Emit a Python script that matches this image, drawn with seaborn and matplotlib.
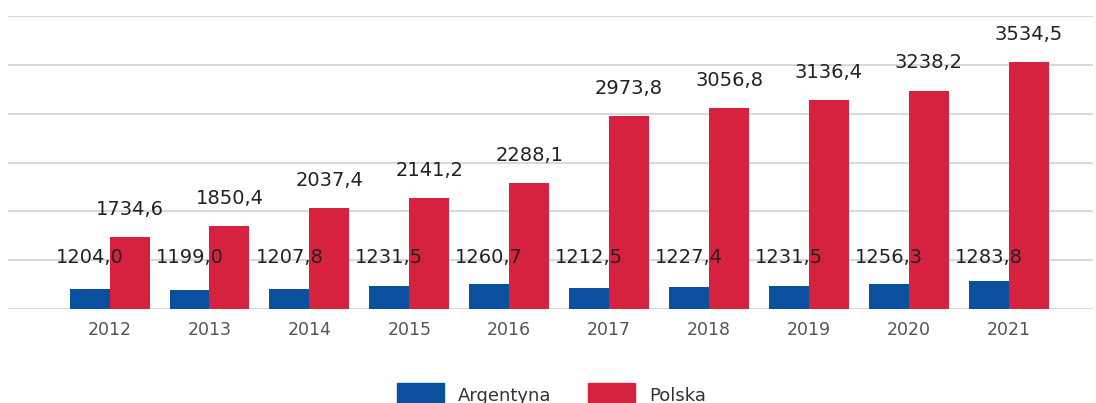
import pandas as pd
import matplotlib
matplotlib.use("Agg")
import matplotlib.pyplot as plt
import seaborn as sns

years = ["2012", "2013", "2014", "2015", "2016", "2017", "2018", "2019", "2020", "2021"]
argentyna = [1204.0, 1199.0, 1207.8, 1231.5, 1260.7, 1212.5, 1227.4, 1231.5, 1256.3, 1283.8]
polska = [1734.6, 1850.4, 2037.4, 2141.2, 2288.1, 2973.8, 3056.8, 3136.4, 3238.2, 3534.5]
series = ["Argentyna", "Polska"]
colors = ["#0b4f9f", "#d6223f"]

df = pd.DataFrame({
    "rok": years * 2,
    "kraj": [series[0]] * len(years) + [series[1]] * len(years),
    "wartosc": argentyna + polska,
})

sns.set_style("white")
fig = plt.figure(figsize=(10.96, 4.03), dpi=100)
ax = fig.add_axes([0.007, 0.233, 0.99, 0.727])

sns.barplot(data=df, x="rok", y="wartosc", hue="kraj", palette=colors,
            width=0.8, saturation=1, linewidth=0, ax=ax, legend=False)

ax.set_ylim(1000, 4000)
ax.set_xlim(-1.02, 9.84)
ax.set_yticks([1000, 1500, 2000, 2500, 3000, 3500, 4000])
ax.yaxis.grid(True, color="#d9d9d9", linewidth=1.5)
ax.set_axisbelow(True)
ax.tick_params(axis="y", left=False, labelleft=False)
ax.tick_params(axis="x", bottom=False, labelsize=12.5, labelcolor="#555555", pad=5)
ax.set_xlabel("")
ax.set_ylabel("")
sns.despine(ax=ax, left=True, bottom=True, top=True, right=True)

def fmt(v):
    return f"{v:.1f}".replace(".", ",")

# Argentyna labels sit at a fixed height, Polska labels above the bars
for i, v in enumerate(argentyna):
    ax.text(i - 0.2, 1525, fmt(v), ha="center", va="center", fontsize=14, color="#222222")
for i, v in enumerate(polska):
    ax.annotate(fmt(v), (i + 0.2, v), xytext=(0, 13), textcoords="offset points",
                ha="center", va="bottom", fontsize=14, color="#222222")

handles = [plt.Rectangle((0, 0), 1, 1, color=c) for c in colors]
fig.legend(handles, series, loc="center", bbox_to_anchor=(0.503, 0.02), ncol=2,
           frameon=False, fontsize=13, handlelength=2.6, handleheight=1.6,
           columnspacing=2.0, labelcolor="#333333")

fig.savefig("out.png", dpi=100)
